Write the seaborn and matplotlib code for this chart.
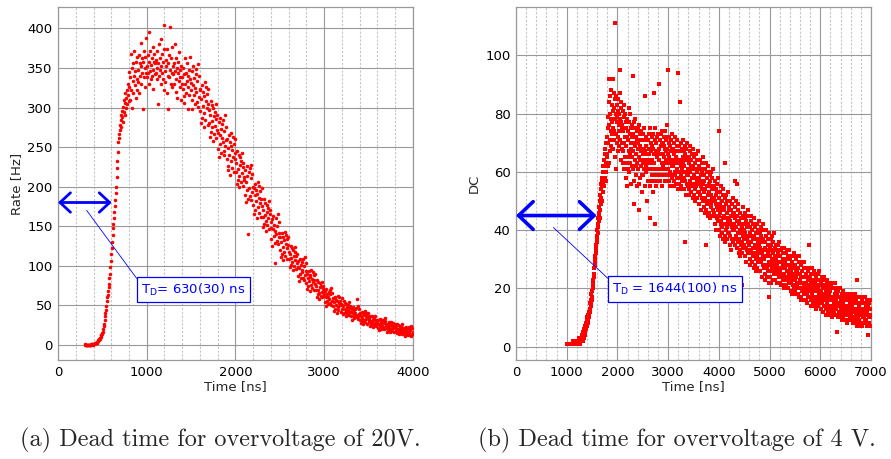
import numpy as np
import pandas as pd
import matplotlib
matplotlib.use("Agg")
import matplotlib.pyplot as plt
import seaborn as sns
from matplotlib.ticker import MultipleLocator

# ---------------- data ----------------
# panel (a): rate [Hz] every 5 ns starting at 300 ns
rate_a_txt = """
1 0 0 0 0 0 0 0 0 0 0 0 0 0 1 0 1 1 0 1
1 1 1 2 2 2 3 3 3 4 5 6 6 7 8 9 10 12 13 14
15 17 20 24 27 31 36 40 44 49 55 60 63 68 73 77 84 90 98 106
115 122 130 139 148 153 160 168 176 183 192 200 212 224 233 244 256 262 266 271
278 284 276 290 288 296 282 301 294 310 290 306 318 299 312 322 304 316 330 308
326 345 310 338 368 322 350 300 334 356 318 340 372 328 346 312 358 336 322 364
348 332 366 318 356 340 382 352 330 362 344 298 358 338 372 350 326 364 388 344
352 338 366 344 396 330 358 346 372 336 354 362 340 376 348 324 358 368 342 356
344 360 336 372 350 304 356 340 380 362 348 330 386 352 344 368 336 358 322 374
404 346 332 360 352 318 374 340 356 298 366 338 402 348 330 362 344 376 326 352
342 356 330 380 346 320 362 336 350 312 344 358 334 370 326 348 338 310 352 330
338 324 350 314 342 306 362 330 344 318 356 334 298 340 326 348 316 336 364 322
331 310 346 298 328 352 316 337 304 325 343 319 349 307 334 301 355 313 340 322
296 323 281 311 287 329 302 320 275 314 293 332 284 308 326 299 317 278 305 323
297 280 291 263 308 269 283 303 275 258 300 289 266 294 277 305 261 286 291 272
268 248 282 237 265 287 254 273 242 262 279 256 284 245 270 240 290 251 276 259
235 260 221 249 226 265 240 257 215 251 232 268 223 246 263 237 254 218 243 260
235 219 230 204 245 209 222 240 214 199 238 227 206 232 217 243 201 225 230 212
208 190 221 181 206 226 196 213 185 140 218 198 223 188 211 183 228 193 216 200
177 198 165 189 170 203 182 196 160 191 174 206 167 186 201 179 194 162 184 198
175 162 171 149 184 153 164 179 157 144 177 168 151 173 160 182 146 166 171 155
148 134 159 125 146 163 138 152 129 144 103 140 161 131 150 127 165 136 155 142
120 137 111 130 115 141 124 136 107 132 118 143 113 128 139 122 134 109 126 137
118 108 115 98 125 101 110 122 105 95 120 113 100 117 107 124 96 112 115 103
98 87 106 81 97 109 90 101 84 95 105 92 108 85 100 82 111 89 103 93
78 90 71 85 74 93 81 89 68 86 76 95 72 83 92 79 88 69 82 90
77 69 74 61 82 64 70 79 66 58 78 73 62 75 67 80 60 71 74 65
62 54 68 49 61 71 56 65 52 60 67 58 70 53 64 50 72 55 66 59
49 59 43 54 45 61 51 57 41 55 48 62 44 53 60 50 56 42 52 59
51 45 49 39 55 41 46 53 43 37 52 48 40 50 44 54 38 47 49 42
42 36 46 32 41 48 37 44 34 40 45 38 47 35 58 33 49 36 45 39
32 40 28 37 30 42 34 40 26 38 31 43 29 36 41 33 39 27 35 40
34 29 32 24 37 26 30 36 28 23 35 32 25 33 28 36 24 31 32 27
28 22 32 19 27 33 24 29 20 26 31 24 32 21 28 20 34 23 30 25
21 27 17 24 19 29 22 27 16 25 20 29 18 24 28 22 26 17 23 27
24 19 22 15 26 16 20 25 18 14 24 21 16 23 19 26 14 21 22 17
18 13 22 11 18 23 15 20 12 17 21 16 23 13 19 11 24 14 21 16
15
"""
# panel (b): DC counts every 5 ns starting at 1000 ns
dc_b_txt = """
1 1 1 1 1 1 1 1 1 1 1 1 1 1 1 1 1 1 1 1
1 1 1 1 1 2 1 1 1 1 2 1 1 1 2 1 1 2 1 1
1 2 1 1 2 1 2 1 1 3 2 1 2 2 1 3 2 2 3 2
3 2 4 3 2 4 5 3 4 6 5 4 6 7 5 6 8 7 6 9
8 7 10 9 8 11 10 12 11 10 13 12 15 13 14 16 15 18 16 17
19 17 21 20 23 22 25 24 27 25 29 28 31 30 33 32 35 34 37 36
38 40 39 42 41 44 43 46 45 48 44 50 47 52 49 54 51 56 50 57
55 58 53 60 56 62 58 64 55 60 66 58 62 68 57 63 70 60 65 72
66 75 62 79 70 84 63 76 92 86 71 80 67 74 88 69 78 83 68 77
73 92 81 68 75 87 74 82 71 111 78 65 85 73 80 61 86 77 70 83
79 72 85 67 81 76 80 69 74 87 95 78 71 82 64 77 84 70 75 68
76 67 81 63 74 83 70 61 79 72 65 80 58 75 69 77 63 72 55 78
71 65 74 61 82 67 77 60 73 66 80 63 70 75 56 68 62 76 65 72
93 67 73 61 77 49 70 57 75 64 69 78 59 72 66 62 71 55 74 63
68 75 61 70 56 76 65 47 73 64 69 58 74 62 67 71 59 53 68 63
66 73 59 68 75 61 64 71 55 86 67 62 69 60 72 63 50 66 71 61
64 71 57 66 73 61 68 44 75 63 55 70 61 67 57 72 64 69 59 53
68 61 73 57 66 87 63 71 59 42 75 55 67 61 70 65 57 72 66 61
67 73 59 68 61 90 64 71 57 66 73 61 69 59 74 63 55 70 66 62
70 63 69 59 72 65 61 74 57 68 64 71 61 67 76 59 68 63 72 66
95 61 70 57 65 72 60 64 69 55 67 63 71 59 68 62 73 58 64 67
62 68 57 66 55 70 63 60 72 59 65 56 67 64 58 69 61 71 54 64
94 60 63 56 69 54 84 67 58 62 70 59 55 64 68 61 57 71 60 65
63 58 67 54 62 69 57 36 66 52 64 60 68 56 65 59 70 55 61 64
59 65 54 63 52 67 60 57 69 56 62 53 64 61 55 66 58 68 51 61
62 56 59 52 65 50 61 63 54 58 66 55 51 60 64 57 53 67 56 61
58 53 62 49 57 64 52 56 61 47 59 55 63 51 60 54 65 50 56 59
53 59 48 57 46 61 54 51 63 50 35 47 58 55 49 60 52 62 45 55
56 50 53 46 59 44 55 57 48 52 60 49 45 54 58 51 47 61 50 55
51 46 55 42 50 57 45 49 54 40 52 48 56 44 53 47 58 43 49 74
45 51 40 49 38 53 46 43 55 42 48 39 50 47 41 52 44 54 37 47
48 42 45 38 51 36 63 49 40 44 52 41 37 46 50 43 39 53 42 47
44 39 48 35 43 50 38 42 47 33 45 41 49 37 46 40 51 36 42 45
40 46 35 44 57 48 41 38 50 37 43 34 45 56 36 47 39 49 32 42
43 37 40 33 46 31 42 44 35 39 21 36 32 41 45 38 34 48 37 42
40 35 44 31 39 46 34 38 43 29 41 37 45 33 42 36 47 32 38 41
35 41 30 39 28 43 36 33 45 32 38 29 40 37 31 42 34 44 27 37
38 32 35 28 41 26 37 39 30 34 42 31 27 36 40 33 29 43 32 37
35 30 39 26 34 41 29 33 38 24 36 32 40 28 37 31 42 27 33 36
30 36 25 34 23 38 31 28 40 27 33 24 35 32 26 37 29 39 22 17
34 28 31 24 37 22 33 35 26 30 38 27 23 32 36 29 25 39 28 33
31 27 34 23 30 35 26 29 33 22 31 28 35 25 32 27 36 24 29 31
26 31 22 29 21 33 27 25 34 24 29 21 30 28 23 32 25 34 20 28
29 24 27 21 32 20 28 30 23 26 33 24 20 28 31 25 22 33 24 28
27 23 30 19 26 31 22 25 29 18 27 24 31 21 28 23 32 20 25 27
23 28 19 26 18 30 24 22 31 21 26 18 27 25 20 29 22 31 17 25
25 20 23 17 28 16 24 26 19 22 29 20 16 24 27 21 18 29 20 24
22 19 25 16 22 27 18 21 24 15 23 20 26 17 35 19 27 17 21 23
19 24 16 22 14 25 20 18 27 17 22 15 23 21 16 25 19 26 14 21
22 17 20 15 24 13 21 23 16 19 25 17 14 20 23 18 15 26 17 21
19 16 22 13 19 24 15 18 21 12 20 17 23 14 21 16 24 14 18 20
16 21 13 19 11 22 17 15 23 14 18 12 20 18 13 21 16 22 11 17
19 14 17 12 21 10 17 20 13 16 22 14 11 17 20 15 12 22 14 18
16 13 19 11 16 20 5 15 18 10 17 14 19 12 17 14 20 11 15 17
13 17 10 16 9 18 14 12 19 11 15 10 16 14 11 17 13 18 9 14
16 12 14 9 17 8 14 16 11 13 18 11 9 14 16 12 10 18 12 15
14 11 17 9 14 18 10 13 16 8 15 12 17 10 15 12 18 9 13 15
11 16 8 15 7 23 12 10 17 9 13 8 14 12 9 15 11 17 7 12
15 11 13 8 16 7 13 15 10 12 17 10 8 13 15 11 9 17 11 14
12 9 15 7 12 16 8 11 14 4 13 10 15 8 13 10 16 7 11 13
11
"""
rate_a = np.array(rate_a_txt.split(), dtype=float)
dc_b = np.array(dc_b_txt.split(), dtype=float)
time_a = 300 + 5 * np.arange(len(rate_a))
time_b = 1000 + 5 * np.arange(len(dc_b))

xticks_a = [0, 1000, 2000, 3000, 4000]
yticks_a = list(range(0, 401, 50))
xticks_b = list(range(0, 7001, 1000))
yticks_b = list(range(0, 101, 20))

label_a = r"T$_\mathrm{D}$= 630(30) ns"
label_b = r"T$_\mathrm{D}$ = 1644(100) ns"
caption_a = "(a) Dead time for overvoltage of 20V."
caption_b = "(b) Dead time for overvoltage of 4 V."

df_a = pd.DataFrame({"t": time_a, "v": rate_a})
df_b = pd.DataFrame({"t": time_b, "v": dc_b})

# ---------------- figure ----------------
sns.set_style("white")
plt.rcParams["font.family"] = ["DejaVu Sans"]
plt.rcParams["mathtext.fontset"] = "dejavusans"

fig = plt.figure(figsize=(8.91, 4.59), dpi=100)
ax1 = fig.add_axes([0.0651, 0.2157, 0.3984, 0.769])
ax2 = fig.add_axes([0.5791, 0.2157, 0.3984, 0.769])

def style(ax, xt, yt, xlim, ylim, ylabel):
    ax.set_xlim(*xlim)
    ax.set_ylim(*ylim)
    ax.set_xticks(xt)
    ax.set_yticks(yt)
    ax.xaxis.set_minor_locator(MultipleLocator(200))
    ax.grid(which="major", color="#999999", lw=0.8, ls="-", zorder=0)
    ax.grid(which="minor", axis="x", color="#c4c4c4", lw=0.8, ls=(0, (2, 1.5)), zorder=0)
    ax.set_axisbelow(True)
    ax.tick_params(which="both", length=0, labelsize=9.5, pad=4, colors="black")
    for s in ax.spines.values():
        s.set_color("#999999")
        s.set_linewidth(0.9)
    ax.set_xlabel("Time [ns]", fontsize=9.5, labelpad=1)
    ax.set_ylabel(ylabel, fontsize=9.5, labelpad=3)

sns.scatterplot(data=df_a, x="t", y="v", ax=ax1, color="#ff0000", s=6.5,
                linewidth=0, marker="o", zorder=3)
sns.scatterplot(data=df_b, x="t", y="v", ax=ax2, color="#ff0000", s=6.5,
                linewidth=0, marker="s", zorder=3)

style(ax1, xticks_a, yticks_a, (0, 4000), (-19, 427), "Rate [Hz]")
style(ax2, xticks_b, yticks_b, (0, 7000), (-4.6, 116.6), "DC")

# annotations panel (a)
ax1.annotate("", xy=(0, 180), xytext=(605, 180),
             arrowprops=dict(arrowstyle="<->,head_length=0.75,head_width=0.7",
                             color="#0000ff", lw=2.0, shrinkA=0, shrinkB=0),
             zorder=5)
ax1.plot([323, 887], [170, 84], color="#0000ff", lw=0.6, zorder=5)
ax1.text(940, 70, label_a, color="#0000ff", fontsize=9.5, ha="left", va="center",
         zorder=6, bbox=dict(boxstyle="square,pad=0.35", fc="white", ec="#0000ff", lw=0.9))

# annotations panel (b)
ax2.annotate("", xy=(0, 45), xytext=(1591, 45),
             arrowprops=dict(arrowstyle="<->,head_length=1.05,head_width=1.0",
                             color="#0000ff", lw=2.6, shrinkA=0, shrinkB=0),
             zorder=5)
ax2.plot([738, 1808], [40.9, 23.5], color="#0000ff", lw=0.6, zorder=5)
ax2.text(1900, 19.8, label_b, color="#0000ff", fontsize=9.5, ha="left", va="center",
         zorder=6, bbox=dict(boxstyle="square,pad=0.35", fc="white", ec="#0000ff", lw=0.9))

# captions
fig.text(0.247, 0.041, caption_a, fontfamily="cmr10", fontsize=17.5, ha="center", va="center")
fig.text(0.760, 0.041, caption_b, fontfamily="cmr10", fontsize=17.5, ha="center", va="center")

fig.savefig("out.png", dpi=100)
